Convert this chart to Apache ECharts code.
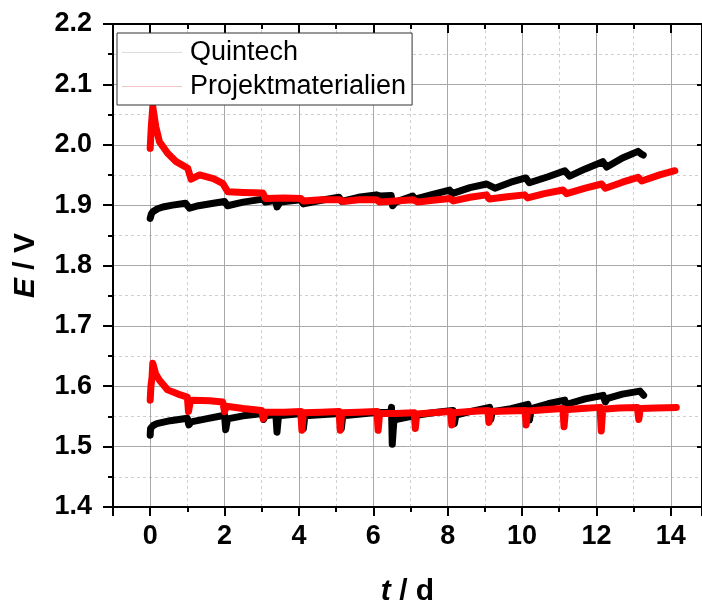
<!DOCTYPE html>
<html>
<head>
<meta charset="utf-8">
<script src="https://cdn.jsdelivr.net/npm/echarts@6/dist/echarts.min.js"></script>
<style>html,body{margin:0;padding:0;background:#fff;}#c{width:702px;height:608px;}</style>
</head>
<body>
<div id="c"></div>
<script>
// ---- data: [t (d), E (V)] ----
const seriesNames = ['Quintech', 'Projektmaterialien'];
const yTickValues = [1.4, 1.5, 1.6, 1.7, 1.8, 1.9, 2.0, 2.1, 2.2];
const xTickValues = [0, 2, 4, 6, 8, 10, 12, 14];

const quintechCharge = [
 [0,1.878],[0.03,1.885],[0.07,1.889],[0.2,1.894],[0.34,1.897],[0.6,1.900],[0.95,1.903],[1.06,1.895],[1.3,1.899],[1.7,1.903],
 [2.0,1.906],[2.08,1.899],[2.5,1.905],[3.03,1.910],[3.1,1.905],[3.37,1.908],[3.41,1.897],[3.5,1.905],[4.05,1.909],[4.12,1.902],
 [4.6,1.908],[5.08,1.913],[5.15,1.906],[5.6,1.913],[6.08,1.917],[6.2,1.915],[6.48,1.916],[6.52,1.899],[6.6,1.905],[7.06,1.915],
 [7.12,1.910],[7.6,1.918],[8.05,1.925],[8.12,1.919],[8.6,1.929],[9.05,1.935],[9.27,1.928],[9.7,1.938],[10.1,1.945],[10.2,1.937],
 [10.7,1.947],[11.15,1.957],[11.28,1.948],[11.7,1.960],[12.17,1.972],[12.28,1.963],[12.7,1.978],[13.12,1.989],[13.2,1.985],[13.26,1.983]
];
const projektCharge = [
 [0,1.994],[0.03,2.03],[0.07,2.063],[0.15,2.03],[0.25,2.005],[0.47,1.986],[0.7,1.972],[1.01,1.961],[1.1,1.943],[1.33,1.950],
 [1.7,1.944],[1.95,1.936],[2.09,1.922],[2.5,1.921],[3.03,1.920],[3.1,1.911],[3.6,1.912],[4.05,1.911],[4.12,1.907],[4.6,1.909],
 [5.1,1.909],[5.18,1.906],[5.6,1.909],[6.08,1.909],[6.17,1.905],[6.6,1.907],[7.06,1.909],[7.2,1.905],[7.6,1.908],[8.06,1.911],
 [8.15,1.907],[8.6,1.913],[9.04,1.917],[9.12,1.910],[9.6,1.914],[10.07,1.917],[10.15,1.912],[10.6,1.919],[11.1,1.925],[11.2,1.919],
 [11.7,1.928],[12.14,1.935],[12.24,1.928],[12.7,1.938],[13.12,1.946],[13.22,1.940],[13.7,1.950],[14.11,1.957]
];
const quintechDischarge = [
 [0,1.519],[0.01,1.530],[0.08,1.535],[0.18,1.538],[0.54,1.543],[1.0,1.547],[1.04,1.536],[1.1,1.541],[1.5,1.546],[2.0,1.552],
 [2.03,1.528],[2.08,1.546],[2.5,1.551],[3.02,1.555],[3.05,1.545],[3.1,1.551],[3.38,1.553],[3.41,1.524],[3.45,1.551],[4.08,1.555],
 [4.12,1.530],[4.16,1.551],[5.1,1.555],[5.14,1.530],[5.18,1.551],[6.0,1.556],[6.47,1.557],[6.49,1.565],[6.51,1.504],[6.55,1.540],
 [6.6,1.545],[7.16,1.552],[7.6,1.556],[8.14,1.560],[8.18,1.538],[8.22,1.552],[8.6,1.558],[9.13,1.565],[9.16,1.545],[9.2,1.558],
 [9.7,1.563],[10.16,1.570],[10.2,1.544],[10.25,1.563],[10.7,1.571],[11.15,1.577],[11.2,1.563],[11.25,1.571],[11.7,1.579],[12.18,1.585],
 [12.24,1.574],[12.3,1.580],[12.7,1.587],[13.17,1.592],[13.27,1.585]
];
const projektDischarge = [
 [0,1.577],[0.02,1.600],[0.05,1.615],[0.07,1.638],[0.15,1.620],[0.25,1.610],[0.47,1.594],[0.75,1.587],[1.0,1.582],[1.03,1.558],
 [1.08,1.575],[1.15,1.577],[1.6,1.576],[1.95,1.574],[2.0,1.558],[2.05,1.567],[2.5,1.563],[3.0,1.560],[3.04,1.546],[3.1,1.557],
 [3.6,1.557],[4.05,1.558],[4.08,1.527],[4.12,1.556],[4.6,1.557],[5.08,1.558],[5.11,1.527],[5.15,1.556],[5.6,1.557],[6.1,1.558],
 [6.13,1.527],[6.17,1.555],[6.6,1.555],[7.1,1.556],[7.13,1.530],[7.17,1.554],[7.6,1.556],[8.08,1.558],[8.11,1.536],[8.15,1.556],
 [8.6,1.558],[9.08,1.560],[9.11,1.540],[9.15,1.558],[9.6,1.559],[10.08,1.560],[10.11,1.536],[10.15,1.559],[10.6,1.561],[11.1,1.563],
 [11.13,1.533],[11.17,1.561],[11.6,1.563],[12.1,1.565],[12.13,1.526],[12.17,1.562],[12.6,1.564],[13.1,1.565],[13.14,1.545],[13.18,1.563],
 [13.6,1.564],[14.15,1.565]
];

const FONT = '"Liberation Sans", Arial, sans-serif';
const xMin = -1, xMax = 14.84;

const chart = echarts.init(document.getElementById('c'), null, {renderer: 'canvas'});

function lineSeries(name, data, color, z) {
  return {
    name: name, type: 'line', data: data, showSymbol: false, symbol: 'none',
    xAxisIndex: 0, yAxisIndex: 0, z: z,
    lineStyle: {color: color, width: 7, join: 'round', cap: 'round'},
    itemStyle: {color: color},
    emphasis: {disabled: true}
  };
}

const xCommon = {
  type: 'value', min: xMin, max: xMax, splitNumber: 8, minInterval: 2, maxInterval: 2,
  axisLine: {show: true, onZero: false, lineStyle: {color: '#000', width: 2}}
};
const yCommon = {
  type: 'value', min: 1.4, max: 2.2, interval: 0.1,
  axisLine: {show: true, onZero: false, lineStyle: {color: '#000', width: 2}}
};

chart.setOption({
  animation: false,
  backgroundColor: '#fff',
  grid: {left: 113, top: 24, right: 0, bottom: 101, containLabel: false, outerBoundsMode: 'none'},
  legend: {
    left: 117, top: 33, orient: 'vertical',
    padding: [6, 6, 5, 5], itemGap: 7,
    borderColor: '#333', borderWidth: 1, backgroundColor: '#fff',
    icon: 'rect', itemWidth: 60, itemHeight: 1,
    textStyle: {fontFamily: FONT, fontSize: 27, color: '#000', padding: [0, 0, 0, 3]},
    data: [
      {name: seriesNames[0], itemStyle: {color: '#dcdcdc'}},
      {name: seriesNames[1], itemStyle: {color: '#f7c4c4'}}
    ],
    selectedMode: false
  },
  xAxis: [
    Object.assign({}, xCommon, {
      position: 'bottom',
      name: '{i|t} / d', nameLocation: 'middle', nameGap: 70,
      nameTextStyle: {fontFamily: FONT, fontSize: 30, fontWeight: 'bold', color: '#000',
        rich: {i: {fontFamily: FONT, fontSize: 30, fontWeight: 'bold', fontStyle: 'italic'}}},
      axisTick: {show: true, inside: false, length: 9, lineStyle: {color: '#000', width: 2}},
      minorTick: {show: true, splitNumber: 2, length: 5, lineStyle: {color: '#000', width: 2}},
      axisLabel: {show: true, margin: 16, showMinLabel: false, showMaxLabel: false,
        fontFamily: FONT, fontSize: 27, fontWeight: 'bold', color: '#000',
        formatter: function (v) { return xTickValues.indexOf(v) >= 0 ? String(v) : ''; }},
      splitLine: {show: true, lineStyle: {color: '#a8a8a8', width: 1, type: 'solid'}},
      minorSplitLine: {show: true, lineStyle: {color: '#cfcfcf', width: 1, type: [3, 3]}}
    }),
    Object.assign({}, xCommon, {
      position: 'top',
      axisTick: {show: true, inside: true, length: 9, lineStyle: {color: '#000', width: 2}},
      minorTick: {show: true, splitNumber: 2, length: 5, lineStyle: {color: '#000', width: 2}},
      axisLabel: {show: false},
      splitLine: {show: false}
    })
  ],
  yAxis: [
    Object.assign({}, yCommon, {
      position: 'left',
      name: '{i|E} / V', nameLocation: 'middle', nameGap: 72,
      nameTextStyle: {fontFamily: FONT, fontSize: 30, fontWeight: 'bold', color: '#000',
        rich: {i: {fontFamily: FONT, fontSize: 30, fontWeight: 'bold', fontStyle: 'italic'}}},
      axisTick: {show: true, inside: false, length: 10, lineStyle: {color: '#000', width: 2}},
      minorTick: {show: true, splitNumber: 2, length: 5, lineStyle: {color: '#000', width: 2}},
      axisLabel: {show: true, margin: 21, fontFamily: FONT, fontSize: 27, fontWeight: 'bold', color: '#000',
        formatter: function (v) { return v.toFixed(1); }},
      splitLine: {show: true, lineStyle: {color: '#a8a8a8', width: 1, type: 'solid'}},
      minorSplitLine: {show: true, lineStyle: {color: '#cfcfcf', width: 1, type: [3, 3]}}
    }),
    Object.assign({}, yCommon, {
      position: 'right',
      axisTick: {show: true, inside: true, length: 5, lineStyle: {color: '#000', width: 2}},
      minorTick: {show: false},
      axisLabel: {show: false},
      splitLine: {show: false}
    })
  ],
  series: [
    lineSeries(seriesNames[0], quintechCharge, '#000000', 2),
    lineSeries(seriesNames[0], quintechDischarge, '#000000', 2),
    lineSeries(seriesNames[1], projektCharge, '#ff0000', 3),
    lineSeries(seriesNames[1], projektDischarge, '#ff0000', 3)
  ]
});
</script>
</body>
</html>
